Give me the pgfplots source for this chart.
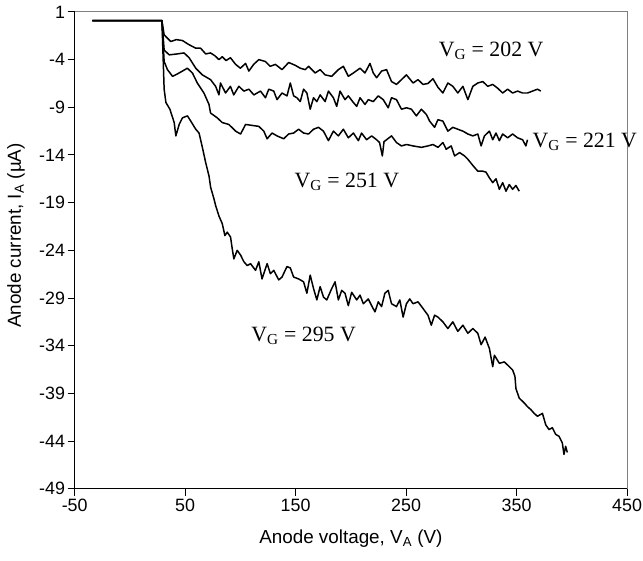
\documentclass[border=0pt]{standalone}
\usepackage{fontspec}
\setmainfont{Liberation Sans}
\newfontfamily\seriffont{Liberation Serif}
\usepackage{pgfplots}
\pgfplotsset{compat=1.18}
\tikzset{curve/.style={black, line width=1.5bp, line join=round, mark=none}}
\begin{document}
\begin{tikzpicture}
\path[use as bounding box] (-75bp,-72bp) rectangle (571bp,491bp);
\begin{axis}[
  at={(0,0)}, anchor=south west,
  scale only axis, width=555bp, height=479bp,
  xmin=-50, xmax=450, ymin=-49, ymax=1,
  xtick={-50,50,150,250,350,450},
  ytick={-49,-44,-39,-34,-29,-24,-19,-14,-9,-4,1},
  axis x line*=bottom, axis y line*=left,
  axis line style={black, line width=1.2bp},
  tick align=outside, major tick length=7bp,
  every tick/.style={black, line width=1bp},
  /pgf/number format/assume math mode=true,
  ticklabel style={font=\fontsize{18}{21}\selectfont},
  yticklabel style={inner sep=2.5bp},
  label style={font=\fontsize{19}{22}\selectfont},
  xlabel={Anode voltage, V\textsubscript{A} (V)},
  ylabel={Anode current, I\textsubscript{A} (µA)},
  xlabel style={at={(axis description cs:0.5,-0.104)}, anchor=center},
  ylabel style={at={(axis description cs:-0.1063,0.531)}, anchor=center},
  clip=false,
]
\draw[gray, line width=1bp] (rel axis cs:0,1) -- (rel axis cs:1,1) -- (rel axis cs:1,0);
% V_G = 202 V
\addplot[curve] coordinates {(-34,0.1)(29,0.1)(31,-1.4)(37,-2.1)(42,-1.9)(47.6,-2.0)(53,-2.4)(59.6,-2.8)(64,-2.8)(68.6,-3.4)(73,-3.3)(77,-3.6)(80.6,-4.0)(83.6,-3.7)(87,-4.1)(91,-3.8)(95.7,-4.5)(100,-4.9)(104.7,-4.4)(107.7,-5.2)(112,-4.5)(116.7,-4.0)(122.7,-4.2)(127,-4.7)(131.7,-4.5)(137.7,-5.05)(143.7,-4.3)(149.7,-4.6)(154.2,-4.9)(158.7,-5.05)(161.7,-4.7)(167.7,-5.4)(172.2,-5.05)(176.7,-5.6)(182.7,-5.75)(188.7,-5.05)(193.2,-4.7)(197.7,-5.75)(202.3,-5.4)(208.3,-4.9)(212.8,-5.4)(217.3,-4.4)(220.3,-5.4)(223.3,-5.9)(227.8,-5.2)(232.3,-5.05)(236.8,-6.3)(241.3,-6.6)(245.8,-6.1)(250.3,-5.6)(256.3,-6.45)(260.8,-6.1)(265.3,-6.6)(269.8,-6.5)(274.3,-6.0)(278.8,-6.9)(283.3,-7.5)(287.8,-6.45)(292.3,-6.8)(296.8,-7.5)(301.4,-6.8)(305.9,-8.2)(310.4,-6.8)(314.9,-6.45)(319.4,-6.3)(323.9,-6.8)(328.4,-6.6)(332.9,-7.0)(337.4,-7.5)(341.9,-7.1)(346.4,-7.5)(350.9,-7.3)(355.4,-7.5)(359.9,-7.5)(364.4,-7.3)(368.9,-7.1)(371.9,-7.3)};
% V_G = 221 V
\addplot[curve] coordinates {(-34,0.1)(29,0.1)(31,-3.0)(35.6,-3.5)(43,-3.4)(49,-3.3)(53.6,-3.8)(59.6,-4.9)(65.6,-5.6)(73,-6.1)(77.6,-6.8)(80.6,-7.7)(82,-6.45)(86.6,-7.5)(91,-6.8)(94,-7.7)(98.6,-6.8)(103.2,-7.3)(107.7,-7.1)(112.2,-7.7)(118.2,-7.3)(122.7,-8.0)(125.7,-7.1)(130.2,-7.3)(133.2,-8.2)(137.7,-7.5)(142.2,-7.8)(145.2,-6.45)(148.2,-7.8)(151.2,-8.0)(154.2,-8.4)(157.2,-7.1)(160.2,-7.5)(163.2,-9.2)(166.2,-8.0)(169.2,-8.4)(172.2,-7.7)(176.7,-8.4)(179.7,-7.3)(184.2,-8.0)(187.2,-8.9)(190.2,-7.3)(194.7,-8.2)(197.7,-7.8)(202.3,-8.5)(205.3,-8.9)(208.3,-8.0)(212.8,-8.7)(215.8,-8.2)(220.3,-8.4)(224.8,-7.8)(229.3,-8.2)(233.8,-9.05)(236.8,-8.0)(241.3,-8.2)(245.8,-9.2)(250.3,-9.05)(254.8,-9.2)(259.3,-9.9)(263.8,-9.2)(268.3,-9.75)(271.3,-10.45)(275.8,-11.1)(278.8,-10.3)(283.3,-10.45)(287.8,-11.5)(292.3,-11.1)(296.8,-11.3)(301.4,-11.5)(305.9,-11.8)(310.4,-12.0)(314.9,-11.8)(317.9,-13.05)(320.9,-12.0)(325.4,-11.5)(328.4,-12.4)(331.4,-11.7)(334.4,-12.5)(337.4,-11.8)(341.9,-12.2)(346.4,-11.8)(350.9,-12.2)(355.4,-12.4)(358.4,-13.05)(359.9,-12.4)};
% V_G = 251 V
\addplot[curve] coordinates {(-34,0.1)(29,0.1)(31,-4.2)(34,-5.05)(38.6,-5.75)(43,-5.5)(47.6,-5.2)(52,-4.9)(56.6,-5.4)(61,-6.45)(67,-7.5)(71.6,-8.7)(73,-9.6)(79,-10.1)(83.6,-10.6)(89.6,-10.8)(95.7,-11.5)(100.2,-11.8)(104.7,-10.8)(110.7,-10.9)(116.7,-11.0)(121.2,-11.5)(124.2,-12.3)(128.7,-11.7)(133.2,-12.0)(139.2,-12.3)(143.7,-11.8)(148.2,-11.7)(152.7,-11.3)(157.2,-11.7)(161.7,-11.8)(166.2,-11.3)(170.7,-11.1)(175.2,-11.5)(179.7,-12.5)(184.2,-11.5)(188.7,-12.0)(193.2,-11.3)(197.7,-12.2)(202.3,-11.7)(206.8,-12.5)(209.7,-11.7)(214.2,-12.4)(218.8,-12.0)(223.3,-12.4)(226,-12.7)(228.5,-14.1)(230,-12.6)(232.3,-12.4)(236.8,-12.0)(241.3,-12.7)(245.8,-13.05)(250.3,-12.9)(256.3,-13.05)(263.8,-13.2)(269.8,-13.05)(274.3,-12.9)(278.8,-13.2)(283.3,-12.7)(286.3,-13.4)(290.8,-13.05)(293.9,-14.1)(298.4,-13.75)(302.9,-14.1)(305.9,-14.45)(310.4,-15.1)(314.9,-15.7)(319.4,-15.7)(322.3,-15.8)(325.4,-16.4)(328.4,-16.9)(331.4,-16.5)(334.4,-17.6)(337.4,-16.9)(340.4,-17.8)(343.4,-17.1)(346.4,-17.6)(349.4,-17.2)(352.4,-17.8)};
% V_G = 295 V
\addplot[curve] coordinates {(-34,0.1)(29,0.1)(31,-7.1)(32.6,-8.5)(36.2,-9.2)(40.1,-10.6)(41.6,-12.0)(44.6,-10.8)(47.6,-10.1)(52.1,-9.9)(55.1,-10.45)(59.6,-11.3)(62.6,-11.7)(65.6,-13.2)(68.6,-14.8)(71.6,-16.2)(73.1,-17.4)(76.1,-18.6)(77.6,-19.3)(80.6,-20.4)(83.6,-21.2)(86,-22.45)(88.1,-22.1)(91.1,-22.6)(92.6,-23.8)(94.1,-24.9)(97.1,-24.0)(100.2,-24.5)(103.2,-25.2)(106.2,-25.6)(109.2,-25.4)(113.7,-26.1)(116.7,-25.2)(119.6,-27.0)(124.2,-25.4)(127.2,-26.45)(130.2,-26.1)(134.7,-27.1)(137.7,-26.8)(142.2,-25.7)(145.2,-25.85)(148.2,-26.8)(152.7,-27.0)(157.2,-27.3)(160.2,-28.5)(163.2,-26.6)(166.2,-28.0)(169.2,-29.2)(172.2,-27.8)(175.2,-28.9)(178.2,-29.2)(182.7,-28.0)(185.7,-27.3)(188.7,-29.2)(191.7,-28.2)(194.7,-28.5)(197.7,-29.8)(200.7,-28.4)(205.3,-29.2)(208.3,-28.7)(211.3,-29.6)(215.8,-29.1)(218.8,-29.8)(221.8,-30.45)(224.8,-29.4)(227.8,-29.9)(230.8,-28.5)(233.8,-28.2)(236.8,-29.6)(241.3,-29.9)(244.3,-29.2)(247.3,-31.0)(250.3,-29.6)(253.3,-29.1)(256.3,-29.6)(260.8,-29.4)(265.3,-30.1)(269.8,-30.8)(272.8,-31.85)(275.8,-30.8)(278.8,-31.0)(283.3,-31.5)(287.8,-32.2)(292.3,-31.5)(296.8,-32.5)(301.4,-31.85)(305.9,-32.7)(310.4,-32.2)(314.9,-32.7)(317.9,-33.9)(321.5,-33.1)(325.4,-34.3)(328.4,-36.2)(329.9,-35.0)(334.4,-35.85)(338.9,-35.7)(343.4,-36.2)(346.4,-36.55)(348.5,-37.2)(349.4,-38.5)(352.4,-39.5)(356.9,-40.0)(359.9,-40.4)(362.9,-40.7)(365.9,-41.1)(368.9,-41.4)(373.4,-41.1)(376.4,-42.3)(379.4,-42.8)(382.4,-42.6)(385.4,-43.3)(388.4,-43.5)(391.4,-44.2)(392.9,-45.4)(394.4,-44.55)(395.9,-45.2)};
\begin{scope}[every node/.style={anchor=base, inner sep=0pt, font=\seriffont\fontsize{22}{26}\selectfont}]
\node at (axis cs:327,-3.7) {V\textsubscript{G} = 202 V};
\node at (axis cs:411.7,-13.2) {V\textsubscript{G} = 221 V};
\node at (axis cs:196.4,-17.4) {V\textsubscript{G} = 251 V};
\node at (axis cs:157.2,-33.55) {V\textsubscript{G} = 295 V};
\end{scope}
\end{axis}
\end{tikzpicture}
\end{document}
